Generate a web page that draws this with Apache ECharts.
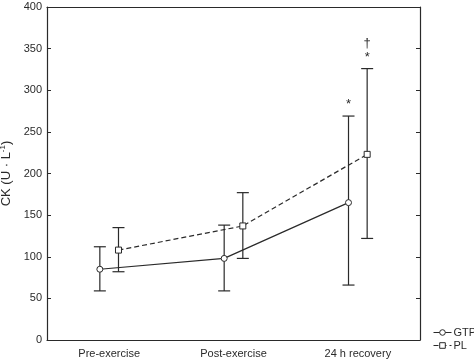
<!DOCTYPE html>
<html><head><meta charset="utf-8">
<script src="https://cdn.jsdelivr.net/npm/echarts@6/dist/echarts.min.js"></script>
<style>html,body{margin:0;padding:0;background:#fff}#c{width:474px;height:359px}</style>
</head><body><div id="c"></div>
<script>
const categories = ['Pre-exercise', 'Post-exercise', '24 h recovery'];
const gtpMean = [85, 98, 165];
const gtpLow  = [59, 59, 66];
const gtpHigh = [112, 138, 269];
const plMean  = [108, 137, 223];
const plLow   = [82, 98, 122];
const plHigh  = [135, 177, 326];
const yTicks = [0, 50, 100, 150, 200, 250, 300, 350, 400];
const offset = 0.075;
// annotations: [category index, series (-1 GTP, +1 PL), value, text]
const annotations = [[2, -1, 283, '*'], [2, 1, 340, '*'], [2, 1, 356, '†']];

const font = '"Liberation Sans", Arial, sans-serif';
const ink = '#2a2a2a';
const gtpPts = gtpMean.map((v, i) => [i - offset, v]);
const plPts = plMean.map((v, i) => [i + offset, v]);
const gtpErr = gtpMean.map((v, i) => [i - offset, gtpLow[i], gtpHigh[i]]);
const plErr = plMean.map((v, i) => [i + offset, plLow[i], plHigh[i]]);
const annData = annotations.map(a => [a[0] + a[1] * offset, a[2], a[3]]);

function errRender(params, api) {
  const x = api.value(0);
  const lo = api.coord([x, api.value(1)]);
  const hi = api.coord([x, api.value(2)]);
  const w = 6;
  const style = { stroke: ink, lineWidth: 1.2 };
  return { type: 'group', children: [
    { type: 'line', shape: { x1: lo[0], y1: lo[1], x2: hi[0], y2: hi[1] }, style },
    { type: 'line', shape: { x1: lo[0] - w, y1: lo[1], x2: lo[0] + w, y2: lo[1] }, style },
    { type: 'line', shape: { x1: hi[0] - w, y1: hi[1], x2: hi[0] + w, y2: hi[1] }, style }
  ]};
}
function annRender(params, api) {
  const p = api.coord([api.value(0), api.value(1)]);
  return { type: 'text', x: p[0], y: p[1], style: { text: api.value(2), fill: ink, font: '13px ' + font, align: 'center', verticalAlign: 'middle' } };
}

const chart = echarts.init(document.getElementById('c'));
const axisLine = { show: true, onZero: false, lineStyle: { color: ink, width: 1.2 } };
chart.setOption({
  animation: false,
  textStyle: { fontFamily: font },
  grid: { left: 47, right: 54, top: 7, bottom: 19, containLabel: false, outerBoundsMode: 'none' },
  legend: {
    orient: 'vertical', left: 428, top: 322, itemGap: 2, itemWidth: 18, itemHeight: 7,
    lineStyle: { width: 1 }, itemStyle: { borderWidth: 1 },
    textStyle: { fontSize: 11, color: ink, padding: [0, 0, 0, -3] },
    data: ['GTP', 'PL']
  },
  xAxis: [
    { type: 'category', data: categories, position: 'bottom', boundaryGap: true,
      axisLine, axisTick: { inside: true, alignWithLabel: true, length: 4, lineStyle: { color: ink } },
      axisLabel: { color: ink, fontSize: 11, margin: 8 }, splitLine: { show: false } },
    { type: 'value', min: -0.5, max: 2.5, show: false },
    { type: 'category', data: categories, position: 'top', boundaryGap: true,
      axisLine, axisTick: { inside: true, alignWithLabel: true, length: 4, lineStyle: { color: ink } },
      axisLabel: { show: false }, splitLine: { show: false } }
  ],
  yAxis: [
    { type: 'value', min: yTicks[0], max: yTicks[yTicks.length - 1], interval: 50, position: 'left',
      name: 'CK (U · L{sup|-1})', nameLocation: 'middle', nameGap: 25, nameRotate: 90,
      nameTextStyle: { color: ink, fontSize: 13, rich: { sup: { fontSize: 8, verticalAlign: 'top', padding: [0, 0, 7, 0], color: ink } } },
      axisLine, axisTick: { show: true, inside: true, length: 4, lineStyle: { color: ink } },
      axisLabel: { color: ink, fontSize: 11, margin: 5 }, splitLine: { show: false } },
    { type: 'value', min: yTicks[0], max: yTicks[yTicks.length - 1], interval: 50, position: 'right',
      axisLine, axisTick: { show: true, inside: true, length: 4, lineStyle: { color: ink } },
      axisLabel: { show: false }, splitLine: { show: false } }
  ],
  series: [
    { type: 'custom', xAxisIndex: 1, yAxisIndex: 0, renderItem: errRender, data: gtpErr, z: 1 },
    { type: 'custom', xAxisIndex: 1, yAxisIndex: 0, renderItem: errRender, data: plErr, z: 1 },
    { name: 'GTP', type: 'line', xAxisIndex: 1, yAxisIndex: 0, data: gtpPts, z: 3,
      symbol: 'circle', symbolSize: 6, color: ink,
      itemStyle: { color: '#fff', borderColor: ink, borderWidth: 1 },
      lineStyle: { color: ink, width: 1.2, type: 'solid' } },
    { name: 'PL', type: 'line', xAxisIndex: 1, yAxisIndex: 0, data: plPts, z: 3,
      symbol: 'rect', symbolSize: 6, color: ink,
      itemStyle: { color: '#fff', borderColor: ink, borderWidth: 1 },
      lineStyle: { color: ink, width: 1.2, type: [5, 3] } },
    { type: 'custom', xAxisIndex: 1, yAxisIndex: 0, renderItem: annRender, data: annData, z: 4 }
  ]
});
</script></body></html>
